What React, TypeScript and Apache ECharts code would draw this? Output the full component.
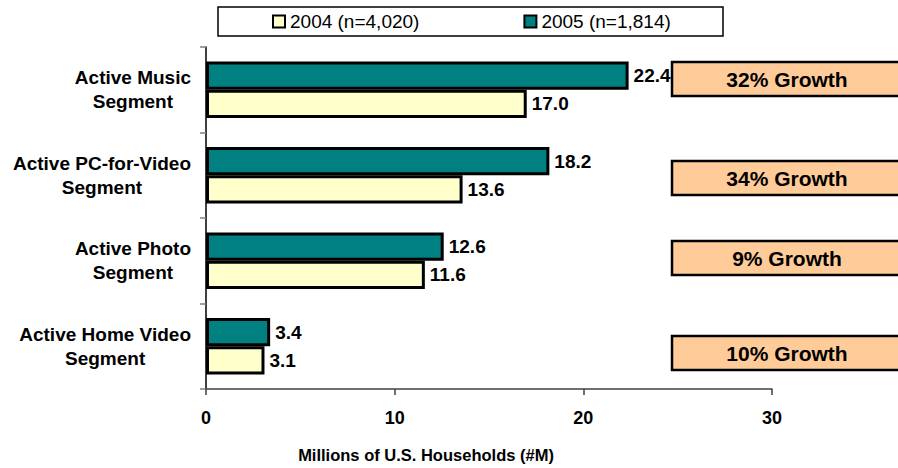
import React, { useEffect, useRef } from "react";
import * as echarts from "echarts";

const categories = [
  "Active Music\nSegment",
  "Active PC-for-Video\nSegment",
  "Active Photo\nSegment",
  "Active Home Video\nSegment",
];
const seriesNames = ["2004 (n=4,020)", "2005 (n=1,814)"];
const values2004 = [17.0, 13.6, 11.6, 3.1];
const values2005 = [22.4, 18.2, 12.6, 3.4];
const growthLabels = ["32% Growth", "34% Growth", "9% Growth", "10% Growth"];
const xTicks = [0, 10, 20, 30];

const FONT = '"Liberation Sans", Arial, Helvetica, sans-serif';
const growthTops = [62, 161, 241, 336];

export default function App() {
  const ref = useRef<HTMLDivElement>(null);
  useEffect(() => {
    document.body.style.margin = "0";
    if (!ref.current) return;
    const chart = echarts.init(ref.current, null, { renderer: "svg" });
    const labelStyle = {
      show: true,
      position: "right",
      distance: 5,
      fontFamily: FONT,
      fontWeight: "bold",
      fontSize: 19,
      color: "#000",
      formatter: (p: any) => Number(p.value).toFixed(1),
    };
    chart.setOption({
      animation: false,
      backgroundColor: "#fff",
      textStyle: { fontFamily: FONT },
      grid: { left: 206, width: 566, top: 47, height: 344, containLabel: false },
      legend: {
        data: seriesNames,
        left: 272,
        top: 12,
        padding: 0,
        itemWidth: 12,
        itemHeight: 12,
        itemGap: 104,
        icon: "rect",
        itemStyle: { borderColor: "#000", borderWidth: 2 },
        textStyle: { fontFamily: FONT, fontSize: 19, color: "#000" },
      },
      xAxis: {
        type: "value",
        min: xTicks[0],
        max: xTicks[xTicks.length - 1],
        interval: 10,
        splitLine: { show: false },
        axisLine: { show: true, lineStyle: { color: "#404040", width: 1.5 } },
        axisTick: { show: true, length: 6, lineStyle: { color: "#404040", width: 1.5 } },
        axisLabel: {
          margin: 20,
          fontFamily: FONT,
          fontWeight: "bold",
          fontSize: 18,
          color: "#000",
        },
        name: "Millions of U.S. Households (#M)",
        nameLocation: "middle",
        nameGap: 57,
        nameTextStyle: {
          fontFamily: FONT,
          fontWeight: "bold",
          fontSize: 16.5,
          color: "#000",
          padding: [0, 126, 0, 0],
        },
      },
      yAxis: {
        type: "category",
        inverse: true,
        data: categories,
        axisLine: { show: true, lineStyle: { color: "#000", width: 1.5 } },
        axisTick: { show: true, length: 6, lineStyle: { color: "#808080", width: 1.5 } },
        axisLabel: {
          margin: 15,
          align: "right",
          formatter: (v: string) =>
            v
              .split("\n")
              .map((l) => `{c|${l}}`)
              .join("\n"),
          rich: {
            c: {
              align: "center",
              fontFamily: FONT,
              fontWeight: "bold",
              fontSize: 19,
              lineHeight: 24,
              color: "#000",
            },
          },
        },
      },
      series: [
        {
          name: seriesNames[1],
          type: "bar",
          data: values2005,
          barCategoryGap: "34%",
          barGap: "0%",
          itemStyle: { color: "#008080", borderColor: "#000", borderWidth: 3 },
          label: labelStyle,
        },
        {
          name: seriesNames[0],
          type: "bar",
          data: values2004,
          barCategoryGap: "34%",
          barGap: "0%",
          itemStyle: { color: "#FFFFCC", borderColor: "#000", borderWidth: 3 },
          label: labelStyle,
        },
      ],
      graphic: [
        {
          type: "rect",
          shape: { x: 218, y: 7, width: 505, height: 29 },
          style: { fill: "none", stroke: "#000", lineWidth: 1.5 },
          z: 0,
        },
        ...growthLabels.map((g, i) => ({
          type: "group",
          children: [
            {
              type: "rect",
              shape: { x: 672, y: growthTops[i], width: 240, height: 34 },
              style: { fill: "#FFCC99", stroke: "#000", lineWidth: 2.5 },
            },
            {
              type: "text",
              x: 787,
              y: growthTops[i] + 17,
              style: {
                text: g,
                fontFamily: FONT,
                fontWeight: "bold",
                fontSize: 21,
                fill: "#000",
                align: "center",
                verticalAlign: "middle",
              },
            },
          ],
        })),
      ],
    });
    return () => chart.dispose();
  }, []);
  return <div ref={ref} style={{ width: 898, height: 468 }} />;
}
